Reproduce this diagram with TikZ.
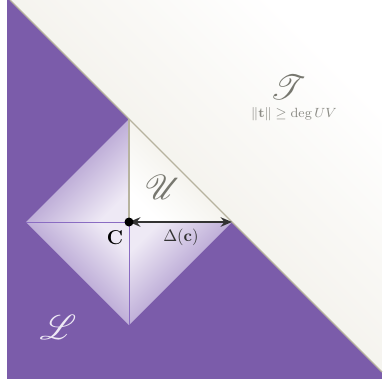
\documentclass[tikz,border=0pt]{standalone}
\usepackage{amsmath,amssymb}
\usepackage{mathrsfs}
\usepackage{xcolor}
\usepackage{tikz}
\usetikzlibrary{arrows.meta,calc,positioning}
\definecolor{lowpurple}{HTML}{7B5CAA}
\definecolor{cubelilac}{HTML}{EEE9F5}
\definecolor{facepurple}{HTML}{9176BC}
\definecolor{seampurple}{HTML}{8A6CC2}
\definecolor{topcream}{HTML}{EBE8DE}
\definecolor{rimgrey}{HTML}{B7B39F}
\definecolor{labelgrey}{HTML}{77776F}
\tikzset{
  region edge/.style = {rimgrey, line width=0.8pt},
  seam/.style        = {seampurple, line width=0.6pt},
  gap arrow/.style   = {{Stealth[length=2.4mm,width=2mm]}-{Stealth[length=2.4mm,width=2mm]},
                        black!80, line width=1.1pt},
  centre dot/.style  = {circle, fill=black, inner sep=0pt, minimum size=5.4pt},
  region label/.style = {font=\huge, text=labelgrey},
}
\begin{document}
\begin{tikzpicture}[x=0.6pt, y=-0.6pt]
  \useasboundingbox (0,0) rectangle (382,386);
  \coordinate (c) at (129,222);
  \coordinate (top) at (129,119);
  \coordinate (r) at (232,222);
  \coordinate (lft) at (26,222);
  \coordinate (bot) at (129,325);
  % the two half planes
  \fill[lowpurple] (7,0) rectangle (382,379);
  \shade[top color=white, middle color=topcream!55!white,
         bottom color=topcream, shading angle=-45] (10,0) -- (382,0) -- (382,372) -- cycle;
  % faces of the cube round c
  \shade[top color=facepurple, middle color=facepurple,
         bottom color=cubelilac, shading angle=45] (lft) -- (top) -- (c) -- cycle;
  \shade[top color=cubelilac, middle color=facepurple,
         bottom color=facepurple, shading angle=-45] (lft) -- (bot) -- (c) -- cycle;
  \shade[top color=cubelilac, middle color=facepurple,
         bottom color=facepurple, shading angle=45] (r) -- (bot) -- (c) -- cycle;
  \shade[top color=topcream, middle color=topcream,
         bottom color=white, shading angle=-45] (top) -- (r) -- (c) -- cycle;
  \draw[seam] (lft) -- (c) -- (bot);
  \draw[region edge] (top) -- (c);
  \draw[region edge] (10,0) -- (382,372);
  \draw[gap arrow] (c) -- (r);
  \node[centre dot] (cdot) at (c) {};
  % labels
  \node[region label] (T) at (288,87) {$\mathscr{T}$};
  \node[font=\footnotesize, text=labelgrey!85] (Tcond) at (294,114)
    {$\|\mathbf{t}\| \geq \deg UV$};
  \node[region label] (U) at (163,187) {$\mathscr{U}$};
  \node[font=\large] (clabel) at (115,238) {$\mathbf{C}$};
  \node[text=black!80] (gap) at (181,237) {$\Delta(\mathbf{c})$};
  \node[region label, text=cubelilac] (L) at (58,327) {$\mathscr{L}$};
\end{tikzpicture}
\end{document}
